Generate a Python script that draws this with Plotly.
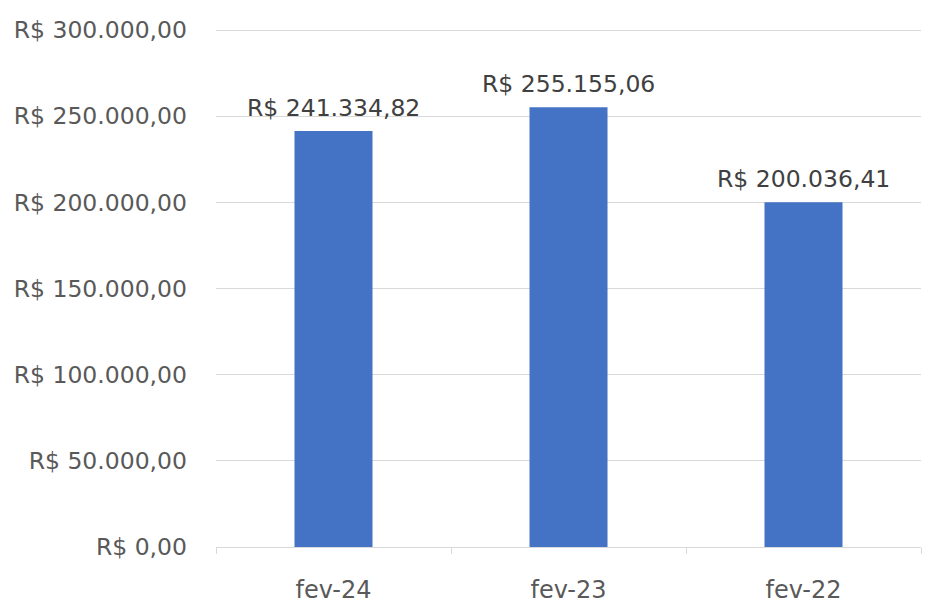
import plotly.graph_objects as go

categories = ["fev-24", "fev-23", "fev-22"]
values = [241334.82, 255155.06, 200036.41]
value_labels = ["R$ 241.334,82", "R$ 255.155,06", "R$ 200.036,41"]
y_tickvals = [0, 50000, 100000, 150000, 200000, 250000, 300000]
y_ticktext = ["R$ 0,00", "R$ 50.000,00", "R$ 100.000,00", "R$ 150.000,00",
              "R$ 200.000,00", "R$ 250.000,00", "R$ 300.000,00"]

FONT = "DejaVu Sans"
FS = 23.5

fig = go.Figure()
fig.add_trace(go.Bar(x=categories, y=values, marker=dict(color="#4472C4", line=dict(width=0)),
                     hoverinfo="skip"))

for c, v, t in zip(categories, values, value_labels):
    fig.add_annotation(x=c, y=v, text=t, showarrow=False, yanchor="bottom", xanchor="center",
                       yshift=7, font=dict(family=FONT, size=FS, color="#404040"))

fig.update_layout(
    width=928, height=601,
    margin=dict(l=216, r=7, t=26, b=54, autoexpand=False),
    paper_bgcolor="white", plot_bgcolor="white",
    bargap=0.668,
    showlegend=False,
    font=dict(family=FONT, size=FS, color="#595959"),
)
fig.update_xaxes(
    type="category",
    showline=True, linecolor="#d9d9d9", linewidth=1,
    ticks="outside", tickson="boundaries", ticklen=6, tickcolor="#d9d9d9",
    showgrid=False, ticklabelstandoff=21,
    tickfont=dict(family=FONT, size=24, color="#595959"),
)
fig.update_yaxes(
    range=[0, 302320],
    tickvals=y_tickvals, ticktext=y_ticktext,
    showgrid=True, gridcolor="#d9d9d9", gridwidth=1,
    zeroline=False, showline=False, ticks="",
    ticklabelstandoff=28,
    tickfont=dict(family=FONT, size=FS, color="#595959"),
)

fig.write_html("out.html", config={"displayModeBar": False},
               post_script="document.body.style.margin='0';")
